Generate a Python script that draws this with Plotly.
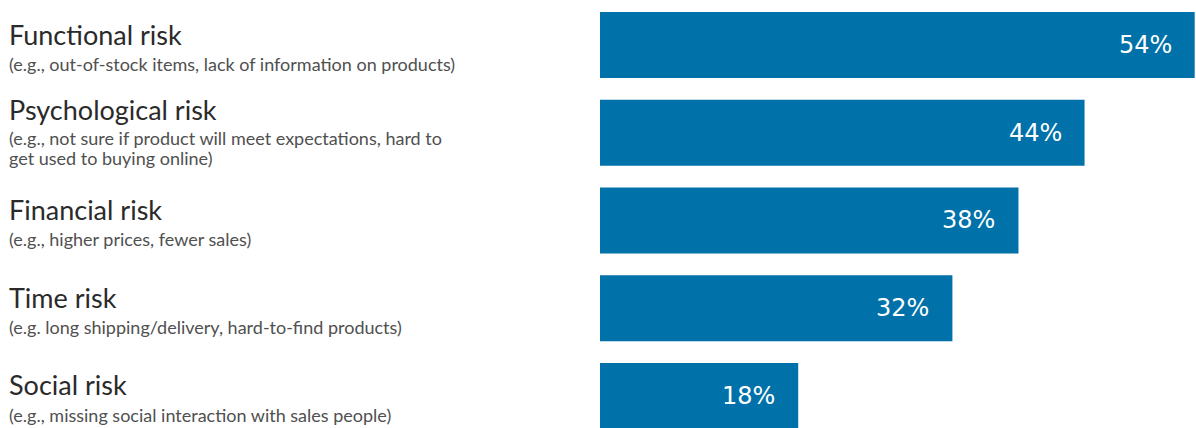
import plotly.graph_objects as go

# Survey shares of perceived online-shopping risks
risk_types = ["Functional risk", "Psychological risk", "Financial risk", "Time risk", "Social risk"]
risk_examples = [
    "(e.g., out-of-stock items, lack of information on products)",
    "(e.g., not sure if product will meet expectations, hard to<br>get used to buying online)",
    "(e.g., higher prices, fewer sales)",
    "(e.g. long shipping/delivery, hard-to-find products)",
    "(e.g., missing social interaction with sales people)",
]
share_pct = [54, 44, 38, 32, 18]

BAR_COLOR = "#0071A9"
TITLE_COLOR = "#2a2a2a"
SUB_COLOR = "#505050"
W, H = 1196, 428
LINE_GAP = 20  # spacing between wrapped example lines (px)

rows = list(range(len(risk_types)))

fig = go.Figure(
    go.Bar(
        x=share_pct,
        y=rows,
        orientation="h",
        marker=dict(color=BAR_COLOR, line=dict(width=0)),
        hoverinfo="skip",
    )
)

annotations = []
for i, (name, ex, v) in enumerate(zip(risk_types, risk_examples, share_pct)):
    lines = ex.split("<br>")
    extra = len(lines) - 1
    title_base = 0 - 12 * extra   # baseline offset from bar centre (px, downwards)
    # category title
    annotations.append(dict(
        x=7 / W, xref="paper", xanchor="left",
        y=i, yref="y", yanchor="bottom", yshift=-(title_base + 7.5),
        text=name, showarrow=False, align="left",
        font=dict(family="Lato", size=27, color=TITLE_COLOR),
    ))
    # example text, one annotation per line
    for k, line in enumerate(lines):
        base = title_base + 27 - 2 * extra + LINE_GAP * k
        annotations.append(dict(
            x=7 / W, xref="paper", xanchor="left",
            y=i, yref="y", yanchor="bottom", yshift=-(base + 5),
            text=line, showarrow=False, align="left",
            font=dict(family="Lato", size=18, color=SUB_COLOR),
        ))
    # value label inside the bar end
    annotations.append(dict(
        x=v, xref="x", xanchor="right", xshift=-21,
        y=i, yref="y", yanchor="middle",
        text=f"{v}%", showarrow=False,
        font=dict(family="DejaVu Sans", size=24, color="white"),
    ))

fig.update_layout(
    width=W, height=H,
    margin=dict(l=0, r=0, t=0, b=0),
    paper_bgcolor="white", plot_bgcolor="white",
    bargap=0.25,
    showlegend=False,
    xaxis=dict(domain=[600 / W, 1], range=[0, 54.12], visible=False, fixedrange=True),
    yaxis=dict(range=[4.365, -0.513], visible=False, fixedrange=True),
    annotations=annotations,
)

fig.write_html("out.html")
